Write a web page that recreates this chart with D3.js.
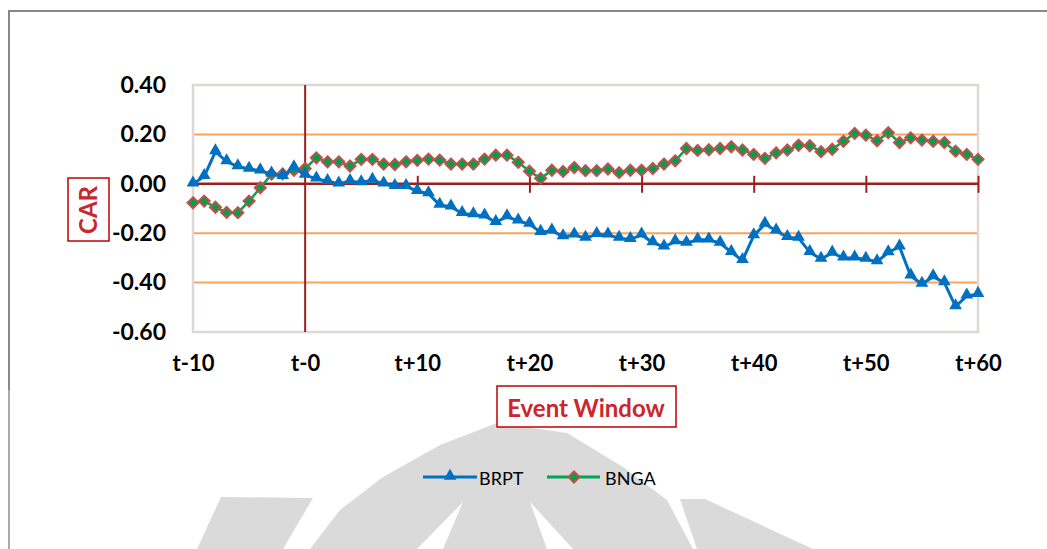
<!DOCTYPE html>
<html>
<head>
<meta charset="utf-8">
<script src="https://cdn.jsdelivr.net/npm/d3@7"></script>
<style>
  body { margin: 0; background: #fff; }
  text { font-family: Lato, "Open Sans", sans-serif; }
</style>
</head>
<body>
<div id="canvas"></div>
<script>
"use strict";

// Data - cumulative abnormal return, event window t-10 .. t+60
let days = d3.range(-10, 61).map(function(d){ return d < 0 ? "t" + d : (d == 0 ? "t-0" : "t+" + d); });
let brpt = [
  0.00, 0.03, 0.13, 0.09, 0.07, 0.06, 0.053, 0.04, 0.03, 0.066,
  0.035, 0.02, 0.01, 0.00, 0.01, 0.005, 0.015, 0.00, -0.01, -0.01,
  -0.03, -0.04, -0.086, -0.093, -0.12, -0.125, -0.13, -0.156, -0.133, -0.15,
  -0.163, -0.196, -0.19, -0.214, -0.207, -0.22, -0.205, -0.207, -0.22, -0.225,
  -0.207, -0.238, -0.255, -0.234, -0.24, -0.227, -0.227, -0.24, -0.277, -0.31,
  -0.21, -0.163, -0.19, -0.217, -0.22, -0.277, -0.305, -0.28, -0.30, -0.30,
  -0.305, -0.315, -0.278, -0.255, -0.373, -0.406, -0.376, -0.40, -0.497, -0.454,
  -0.447
];
let bnga = [
  -0.077, -0.07, -0.095, -0.116, -0.117, -0.07, -0.016, 0.039, 0.04, 0.055,
  0.062, 0.105, 0.089, 0.089, 0.072, 0.099, 0.099, 0.08, 0.078, 0.089,
  0.095, 0.10, 0.096, 0.08, 0.08, 0.08, 0.10, 0.116, 0.116, 0.087,
  0.051, 0.022, 0.055, 0.05, 0.066, 0.053, 0.053, 0.06, 0.045, 0.055,
  0.055, 0.062, 0.08, 0.093, 0.143, 0.135, 0.138, 0.143, 0.15, 0.137,
  0.119, 0.103, 0.125, 0.137, 0.156, 0.154, 0.13, 0.14, 0.172, 0.204,
  0.197, 0.174, 0.207, 0.167, 0.186, 0.177, 0.172, 0.167, 0.132, 0.119,
  0.099
];
let yTicks = [0.4, 0.2, 0, -0.2, -0.4, -0.6];
let gridValues = [0.2, -0.2, -0.4];
let xLabelDays = ["t-10", "t-0", "t+10", "t+20", "t+30", "t+40", "t+50", "t+60"];

// Canvas setup
let svgWidth = 1047;
let svgHeight = 549;
let plot = { left: 193, right: 978, top: 85, bottom: 332 };

let svg = d3.select("#canvas")
  .append("svg")
  .attr("width", svgWidth)
  .attr("height", svgHeight)
  .style("display", "block");

// watermark (faint logo in the background)
let wm = svg.append("g").attr("fill", "#dadada");
let wmShapes = [
  [[497,423],[567,433],[623,467],[667,500],[693,549],[310,549],[340,510],[383,477],[440,445]], // dome
  [[221,497],[313,498],[283,549],[197,549]], // left petal
  [[680,499],[705,499],[813,549],[697,549]]  // right petal
];
wmShapes.forEach(function(pts){
  wm.append("path").attr("d", d3.line()(pts) + "Z");
});
// slits inside the dome
wm.append("path").attr("fill", "#fff").attr("d", d3.line()([[463,502],[443,549],[417,549]]) + "Z");
wm.append("path").attr("fill", "#fff").attr("d", d3.line()([[530,502],[573,549],[547,549]]) + "Z");

// outer border (partial frame)
svg.append("line").attr("x1", 9).attr("x2", svgWidth).attr("y1", 11).attr("y2", 11)
  .attr("stroke", "#888").attr("stroke-width", 2);
svg.append("line").attr("x1", 9).attr("x2", 9).attr("y1", 10).attr("y2", 390)
  .attr("stroke", "#888").attr("stroke-width", 2);
svg.append("line").attr("x1", 9).attr("x2", 9).attr("y1", 390).attr("y2", svgHeight)
  .attr("stroke", "#aaa").attr("stroke-width", 2);

// Scales
let xScale = d3.scalePoint().domain(days).range([plot.left, plot.right]);
let yScale = d3.scaleLinear().domain([-0.6, 0.4]).range([plot.bottom, plot.top]);

// grid lines
svg.append("g").selectAll("line")
  .data(gridValues)
  .enter()
  .append("line")
  .attr("x1", plot.left).attr("x2", plot.right)
  .attr("y1", function(d){ return yScale(d); })
  .attr("y2", function(d){ return yScale(d); })
  .attr("stroke", "#f9a35c")
  .attr("stroke-width", 2);

// plot area border
svg.append("rect")
  .attr("x", plot.left).attr("y", plot.top)
  .attr("width", plot.right - plot.left).attr("height", plot.bottom - plot.top)
  .attr("fill", "none")
  .attr("stroke", "#dcd8d4")
  .attr("stroke-width", 2.5);

// y axis labels (plain hyphen for negatives, like the original)
let fmt = d3.format(".2f");
let yAxis = svg.append("g")
  .attr("transform", "translate(" + plot.left + ",0)")
  .call(d3.axisLeft(yScale).tickValues(yTicks).tickSize(0).tickPadding(27)
    .tickFormat(function(d){ return fmt(d).replace("\u2212", "-"); }));
yAxis.select(".domain").remove();
yAxis.selectAll("text")
  .attr("fill", "#000")
  .style("font-size", "23px")
  .style("font-weight", "700")
  .style("font-family", "Lato, sans-serif");

// x axis labels
let xAxis = svg.append("g")
  .attr("transform", "translate(0," + plot.bottom + ")")
  .call(d3.axisBottom(xScale).tickValues(xLabelDays).tickSize(0).tickPadding(23));
xAxis.select(".domain").remove();
xAxis.selectAll("text")
  .attr("fill", "#000")
  .style("font-size", "22px")
  .style("font-weight", "700")
  .style("font-family", "Lato, sans-serif");

// zero line with crossing ticks
let axisRed = "#9c1f1f";
let zeroAxis = svg.append("g")
  .attr("transform", "translate(0," + yScale(0) + ")")
  .call(d3.axisBottom(xScale).tickValues(xLabelDays.slice(2)).tickSize(9).tickFormat(""));
zeroAxis.select(".domain").attr("d", "M" + plot.left + ",0H" + plot.right)
  .attr("stroke", axisRed).attr("stroke-width", 2.5);
zeroAxis.selectAll(".tick line").attr("y1", -8).attr("y2", 9)
  .attr("stroke", axisRed).attr("stroke-width", 2);

// vertical axis at t-0
svg.append("line")
  .attr("x1", xScale("t-0")).attr("x2", xScale("t-0"))
  .attr("y1", plot.top).attr("y2", plot.bottom)
  .attr("stroke", axisRed).attr("stroke-width", 2);

// series
let line = d3.line()
  .x(function(d, i){ return xScale(days[i]); })
  .y(function(d){ return yScale(d); });

let blue = "#0070c0";
let green = "#00a650";
let diamondEdge = "#c0504d";

let triangle = d3.symbol().type(d3.symbolTriangle).size(70);
let diamond = function(s){ return "M0,-" + s + "L" + s + ",0L0," + s + "L-" + s + ",0Z"; };

svg.append("path")
  .attr("d", line(bnga))
  .attr("fill", "none").attr("stroke", green).attr("stroke-width", 2.5);
svg.append("g").selectAll("path")
  .data(bnga)
  .enter()
  .append("path")
  .attr("transform", function(d, i){ return "translate(" + xScale(days[i]) + "," + yScale(d) + ")"; })
  .attr("d", diamond(5.5))
  .attr("fill", "#00a04a")
  .attr("stroke", diamondEdge)
  .attr("stroke-width", 2);

svg.append("path")
  .attr("d", line(brpt))
  .attr("fill", "none").attr("stroke", blue).attr("stroke-width", 3);
svg.append("g").selectAll("path")
  .data(brpt)
  .enter()
  .append("path")
  .attr("transform", function(d, i){ return "translate(" + xScale(days[i]) + "," + (yScale(d) - 1) + ")"; })
  .attr("d", triangle)
  .attr("fill", blue);

// axis titles with red boxes
let titleRed = "#c8282d";
svg.append("rect")
  .attr("x", 68).attr("y", 178).attr("width", 41).attr("height", 63)
  .attr("fill", "#fff").attr("stroke", "#c00000").attr("stroke-width", 1.5);
svg.append("text")
  .attr("transform", "translate(97,210) rotate(-90)")
  .attr("text-anchor", "middle")
  .attr("fill", titleRed)
  .style("font-size", "24px")
  .style("font-weight", "700")
  .text("CAR");

svg.append("rect")
  .attr("x", 497).attr("y", 386).attr("width", 179).attr("height", 41)
  .attr("fill", "#fff").attr("stroke", "#c00000").attr("stroke-width", 1.5);
svg.append("text")
  .attr("x", 586).attr("y", 417)
  .attr("text-anchor", "middle")
  .attr("fill", titleRed)
  .style("font-size", "24px")
  .style("font-weight", "700")
  .text("Event Window");

// Legend
let legend = svg.append("g").attr("transform", "translate(0,477)");
legend.append("line").attr("x1", 423).attr("x2", 477).attr("stroke", blue).attr("stroke-width", 3);
legend.append("path").attr("transform", "translate(450,-1)").attr("d", triangle).attr("fill", blue);
legend.append("text").attr("x", 479).attr("y", 8).style("font-size", "18px").attr("fill", "#000").text("BRPT");

legend.append("line").attr("x1", 547).attr("x2", 600).attr("stroke", green).attr("stroke-width", 3);
legend.append("path").attr("transform", "translate(574,0)").attr("d", diamond(5.5))
  .attr("fill", "#00a04a").attr("stroke", diamondEdge).attr("stroke-width", 2);
legend.append("text").attr("x", 605).attr("y", 8).style("font-size", "18px").attr("fill", "#000").text("BNGA");
</script>
</body>
</html>
